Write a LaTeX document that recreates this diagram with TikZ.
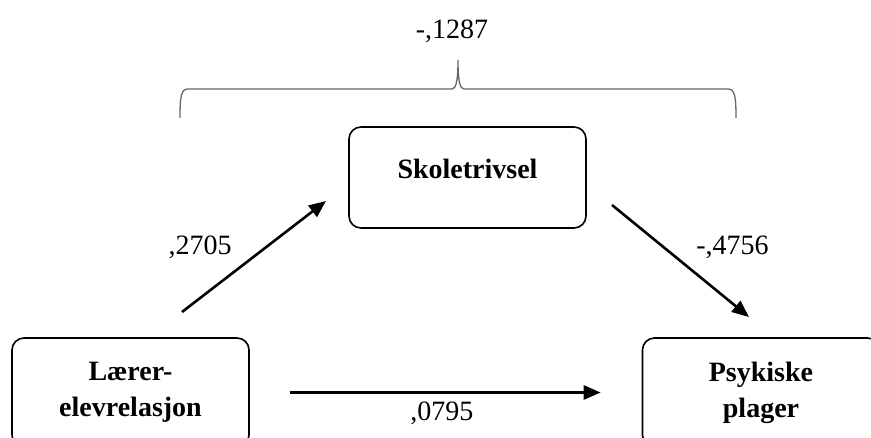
\documentclass[tikz,border=0pt]{standalone}
\usepackage{fontspec}
\setmainfont{Liberation Serif}
\usepackage{tikz}
\usetikzlibrary{arrows.meta,positioning}
\tikzset{>/.tip={Triangle[length=17pt,width=14pt]}}
\def\diafont{\fontsize{28}{36}\selectfont}
\tikzset{box/.style={draw,line width=1.6pt,rounded corners=12pt,minimum width=237pt,minimum height=101pt,align=center,font=\diafont\bfseries}}
\tikzset{tall/.style={minimum height=109pt}}
\tikzset{lbl/.style={inner sep=2pt}}
\tikzset{arr/.style={->,line width=2.6pt}}
\colorlet{bracegray}{black!60}

\begin{document}
\begin{tikzpicture}[x=1pt,y=1pt,font=\diafont,on grid]
        \useasboundingbox (0,0) rectangle (871,437);
        \node(skole)[box,text depth=18pt] at (467.5,259.5){Skoletrivsel};
        \node(laerer)[box,tall,below left=215pt and 337pt of skole]{Lærer-\\elevrelasjon};
        \node(psyk)[box,tall,right=630.5pt of laerer]{Psykiske\\plager};
        \coordinate(a1) at (182,125);
        \coordinate(a2) at (326,236);
        \coordinate(b1) at (612,232);
        \coordinate(b2) at (749,120);
        \draw
        (a1) edge[arr] node[lbl,left=30.5pt,pos=.58]{,2705} (a2)
        (b1) edge[arr] node[lbl,right=29pt,pos=.38]{-,4756} (b2)
        (laerer) edge[arr,shorten <=40pt,shorten >=41pt] node[lbl,below=6pt,pos=.49]{,0795} (psyk);
        % brace over the indirect path
        \draw[bracegray,line width=1.3pt] (180,319) .. controls (180,340) and (181,348) .. (188,348)
        -- (452,348) .. controls (456,348) and (458,356) .. (458,377)
        node[lbl,above=15pt,xshift=-6pt,black]{-,1287}
        .. controls (458,356) and (460,348) .. (464,348)
        -- (728,348) .. controls (735,348) and (736,340) .. (736,319);
      \end{tikzpicture}
\end{document}
